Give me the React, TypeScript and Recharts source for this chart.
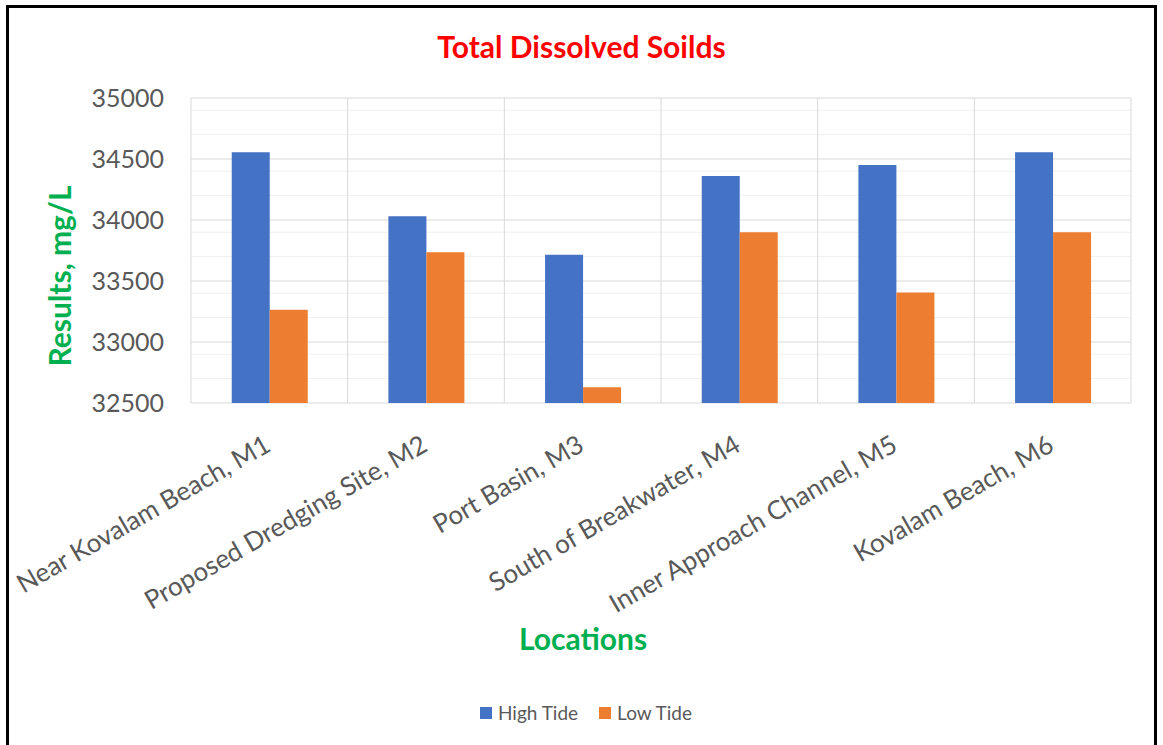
import { BarChart, Bar, XAxis, YAxis, CartesianGrid, Legend } from "recharts"

const locations = [
  "Near Kovalam Beach, M1",
  "Proposed Dredging Site, M2",
  "Port Basin, M3",
  "South of Breakwater, M4",
  "Inner Approach Channel, M5",
  "Kovalam Beach, M6",
]
const highTide = [34555, 34030, 33715, 34360, 34450, 34555]
const lowTide = [33265, 33735, 32630, 33900, 33405, 33900]

const yTicks = [32500, 33000, 33500, 34000, 34500, 35000]
const minorTicks = [
  32600, 32700, 32800, 32900, 33100, 33200, 33300, 33400, 33600, 33700,
  33800, 33900, 34100, 34200, 34300, 34400, 34600, 34700, 34800, 34900,
]

const data = locations.map((name, i) => ({
  name,
  high: highTide[i],
  low: lowTide[i],
}))

const FONT = "Lato, 'Open Sans', sans-serif"

function LocationTick({ x, y, payload }: any) {
  return (
    <text
      x={x + 3}
      y={y + 47}
      transform={`rotate(-30, ${x + 3}, ${y + 47})`}
      textAnchor="end"
      fontFamily={FONT}
      fontSize={26}
      fill="#595959"
    >
      {payload.value}
    </text>
  )
}

function LegendBox({ payload }: any) {
  return (
    <div
      style={{
        display: "flex",
        justifyContent: "center",
        gap: 21,
        fontFamily: FONT,
        fontSize: 19,
        color: "#595959",
      }}
    >
      {(payload || []).map((p: any) => (
        <div key={p.value} style={{ display: "flex", alignItems: "center" }}>
          <span
            style={{
              width: 12,
              height: 12,
              background: p.color,
              marginRight: 6,
              display: "inline-block",
            }}
          />
          <span>{p.value}</span>
        </div>
      ))}
    </div>
  )
}

export default function App() {
  return (
    <div
      style={{
        position: "absolute",
        top: 0,
        left: 0,
        width: 1163,
        height: 745,
        overflow: "hidden",
        background: "#fff",
      }}
    >
      <div
        style={{
          position: "absolute",
          left: 6,
          top: 5,
          width: 1151,
          height: 780,
          border: "3px solid #000",
          boxSizing: "border-box",
        }}
      />
      <BarChart
        width={1163}
        height={745}
        data={data}
        margin={{ top: 98, right: 32, left: 131, bottom: 40 }}
        barCategoryGap="26%"
        barGap={0}
        style={{ position: "absolute", top: 0, left: 0 }}
      >
        <CartesianGrid
          stroke="#f0f0f0"
          vertical={false}
          horizontalValues={minorTicks}
        />
        <CartesianGrid
          stroke="#d9d9d9"
          verticalCoordinatesGenerator={({ offset }: any) =>
            locations
              .concat([""])
              .map((_, i) => offset.left + (i * offset.width) / locations.length)
          }
        />
        <XAxis
          dataKey="name"
          interval={0}
          height={302}
          axisLine={false}
          tickLine={false}
          tickSize={0}
          tickMargin={0}
          tick={<LocationTick />}
        />
        <YAxis
          width={60}
          domain={[32500, 35000]}
          ticks={yTicks}
          axisLine={false}
          tickLine={false}
          tickSize={0}
          tickMargin={27}
          tick={{ fontFamily: FONT, fontSize: 25, fill: "#595959" }}
        />
        <Legend
          layout="horizontal"
          verticalAlign="middle"
          align="center"
          wrapperStyle={{ top: 701, left: 0, width: 1172 }}
          content={<LegendBox />}
        />
        <Bar dataKey="high" name="High Tide" fill="#4472C4" isAnimationActive={false} />
        <Bar dataKey="low" name="Low Tide" fill="#ED7D31" isAnimationActive={false} />
      </BarChart>
      <div
        style={{
          position: "absolute",
          left: 0,
          width: 1163,
          top: 27,
          textAlign: "center",
          fontFamily: FONT,
          fontWeight: 700,
          fontSize: 30,
          color: "#FF0000",
          lineHeight: "38px",
        }}
      >
        Total Dissolved Soilds
      </div>
      <div
        style={{
          position: "absolute",
          left: 59 - 150,
          top: 276 - 19,
          width: 300,
          textAlign: "center",
          transform: "rotate(-90deg)",
          fontFamily: FONT,
          fontWeight: 700,
          fontSize: 30,
          color: "#00B050",
          lineHeight: "38px",
        }}
      >
        Results, mg/L
      </div>
      <div
        style={{
          position: "absolute",
          left: 583 - 150,
          top: 638 - 19,
          width: 300,
          textAlign: "center",
          fontFamily: FONT,
          fontWeight: 700,
          fontSize: 30,
          color: "#00B050",
          lineHeight: "38px",
        }}
      >
        Locations
      </div>
    </div>
  )
}
